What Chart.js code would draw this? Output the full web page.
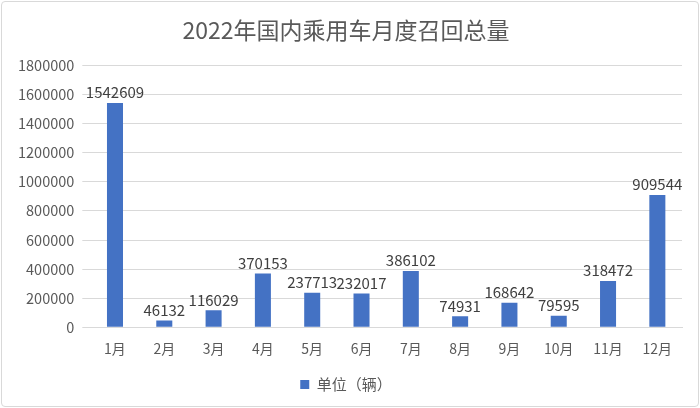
<!DOCTYPE html>
<html>
<head>
<meta charset="utf-8">
<script src="https://cdn.jsdelivr.net/npm/chart.js@4"></script>
<style>
  html, body { margin: 0; padding: 0; background: #fff; }
  #wrap { position: absolute; left: 1px; top: 1px; width: 696px; height: 404px; border: 1px solid #d9d9d9; border-radius: 4px; }
</style>
</head>
<body>
<div id="wrap"><canvas id="barchart" width="696" height="404"></canvas></div>
<script>
// Monthly recall totals
var months = ['1月', '2月', '3月', '4月', '5月', '6月', '7月', '8月', '9月', '10月', '11月', '12月'];
var recalls = [1542609, 46132, 116029, 370153, 237713, 232017, 386102, 74931, 168642, 79595, 318472, 909544];
var seriesName = '单位（辆）';
var titleText = '2022年国内乘用车月度召回总量';

var fontFamily = '"Noto Sans CJK SC", "Noto Sans", sans-serif';

// draw value labels above each bar
var valueLabels = {
    id: 'valueLabels',
    afterDatasetsDraw: function(chart) {
        var ctx = chart.ctx;
        var meta = chart.getDatasetMeta(0);
        ctx.save();
        ctx.font = '15px ' + fontFamily;
        ctx.fillStyle = '#404040';
        ctx.textAlign = 'center';
        ctx.textBaseline = 'bottom';
        meta.data.forEach(function(bar, i) {
            ctx.fillText(String(recalls[i]), bar.x, bar.y - 3);
        });
        ctx.restore();
    }
};

var ctx = document.getElementById('barchart').getContext('2d');

var myBarChart = new Chart(ctx, {
    type: 'bar',
    data: {
        labels: months,
        datasets: [{
            label: seriesName,
            data: recalls,
            backgroundColor: '#4472c4',
            barPercentage: 0.65,
            categoryPercentage: 0.5
        }]
    },
    options: {
        responsive: false,
        animation: false,
        layout: { padding: { left: 8, right: 16, top: 2, bottom: 4 } },
        plugins: {
            title: {
                display: true,
                text: titleText,
                color: '#595959',
                font: { family: fontFamily, size: 23, weight: 'normal' },
                padding: { top: 12, bottom: 22 }
            },
            legend: {
                position: 'bottom',
                labels: {
                    color: '#595959',
                    font: { family: fontFamily, size: 15 },
                    boxWidth: 9,
                    boxHeight: 9,
                    padding: 15
                }
            },
            tooltip: { enabled: false }
        },
        scales: {
            x: {
                grid: { display: false },
                border: { color: '#d9d9d9' },
                ticks: { color: '#595959', font: { family: fontFamily, size: 14 }, padding: 5 }
            },
            y: {
                min: 0,
                max: 1800000,
                ticks: {
                    stepSize: 200000,
                    color: '#595959',
                    font: { family: fontFamily, size: 14.5 },
                    padding: 8,
                    callback: function(v) { return String(v); }
                },
                grid: { color: '#d9d9d9' },
                border: { display: false }
            }
        }
    },
    plugins: [valueLabels]
});
</script>
</body>
</html>
